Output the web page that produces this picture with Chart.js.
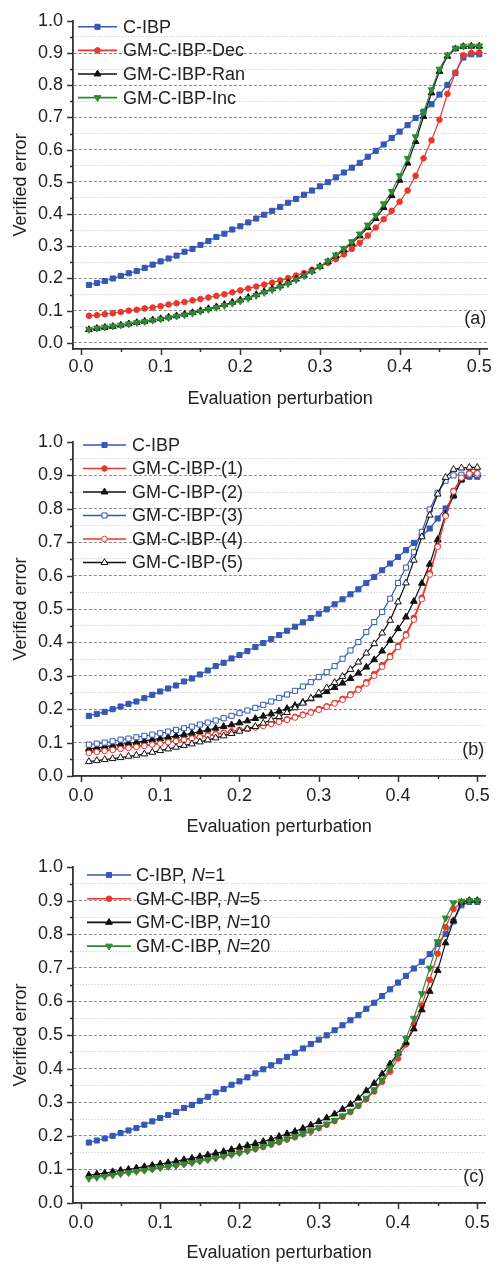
<!DOCTYPE html>
<html>
<head>
<meta charset="utf-8">
<script src="https://cdn.jsdelivr.net/npm/chart.js@4/dist/chart.umd.min.js"></script>
<style>
  html, body { margin: 0; padding: 0; background: #fff; }
  #wrap { position: relative; width: 499px; height: 1264px; }
  canvas { position: absolute; left: 0; }
</style>
</head>
<body>
<div id="wrap">
  <canvas id="chartA" width="499" height="420" style="top:0"></canvas>
  <canvas id="chartB" width="499" height="420" style="top:420px"></canvas>
  <canvas id="chartC" width="499" height="424" style="top:840px"></canvas>
</div>
<script>
// evaluation perturbation (x) and axis ticks
const xs = [0.01, 0.02, 0.03, 0.04, 0.05, 0.06, 0.07, 0.08, 0.09, 0.10,
            0.11, 0.12, 0.13, 0.14, 0.15, 0.16, 0.17, 0.18, 0.19, 0.20,
            0.21, 0.22, 0.23, 0.24, 0.25, 0.26, 0.27, 0.28, 0.29, 0.30,
            0.31, 0.32, 0.33, 0.34, 0.35, 0.36, 0.37, 0.38, 0.39, 0.40,
            0.41, 0.42, 0.43, 0.44, 0.45, 0.46, 0.47, 0.48, 0.49, 0.50];
const xTicks = [0, 0.05, 0.1, 0.15, 0.2, 0.25, 0.3, 0.35, 0.4, 0.45, 0.5];
const yTicks = [0, 0.05, 0.1, 0.15, 0.2, 0.25, 0.3, 0.35, 0.4, 0.45, 0.5,
                0.55, 0.6, 0.65, 0.7, 0.75, 0.8, 0.85, 0.9, 0.95, 1.0];

// C-IBP baseline (same in all three panels)
const cibp = [0.180, 0.186, 0.192, 0.200, 0.208, 0.216, 0.223, 0.233, 0.243, 0.253,
              0.262, 0.271, 0.283, 0.292, 0.304, 0.316, 0.329, 0.339, 0.352, 0.362,
              0.374, 0.386, 0.398, 0.410, 0.422, 0.435, 0.447, 0.460, 0.473, 0.486,
              0.499, 0.514, 0.529, 0.544, 0.559, 0.578, 0.596, 0.616, 0.636, 0.656,
              0.676, 0.698, 0.718, 0.741, 0.771, 0.801, 0.838, 0.886, 0.896, 0.896];

// panel (a)
const gmDec = [0.084, 0.086, 0.089, 0.092, 0.096, 0.100, 0.103, 0.107, 0.110, 0.114,
               0.119, 0.123, 0.127, 0.132, 0.136, 0.141, 0.146, 0.151, 0.157, 0.163,
               0.169, 0.175, 0.181, 0.187, 0.194, 0.201, 0.209, 0.217, 0.227, 0.237,
               0.248, 0.260, 0.275, 0.292, 0.311, 0.333, 0.358, 0.384, 0.410, 0.438,
               0.473, 0.519, 0.573, 0.629, 0.693, 0.773, 0.839, 0.893, 0.900, 0.902];
const gmRan = [0.041, 0.045, 0.048, 0.051, 0.055, 0.059, 0.063, 0.067, 0.071, 0.075,
               0.080, 0.084, 0.089, 0.094, 0.100, 0.106, 0.112, 0.119, 0.126, 0.133,
               0.141, 0.150, 0.159, 0.168, 0.177, 0.187, 0.198, 0.210, 0.223, 0.237,
               0.252, 0.270, 0.289, 0.309, 0.332, 0.358, 0.386, 0.420, 0.457, 0.505,
               0.558, 0.625, 0.703, 0.776, 0.843, 0.890, 0.913, 0.920, 0.921, 0.921];
const gmInc = [0.042, 0.046, 0.049, 0.052, 0.055, 0.059, 0.063, 0.066, 0.070, 0.074,
               0.078, 0.083, 0.087, 0.092, 0.098, 0.104, 0.110, 0.116, 0.123, 0.130,
               0.138, 0.147, 0.156, 0.165, 0.174, 0.184, 0.196, 0.209, 0.222, 0.237,
               0.254, 0.273, 0.293, 0.314, 0.338, 0.366, 0.396, 0.432, 0.470, 0.519,
               0.573, 0.640, 0.716, 0.786, 0.850, 0.894, 0.915, 0.921, 0.922, 0.922];

// panel (b)
const gm1 = [0.073, 0.075, 0.077, 0.080, 0.083, 0.086, 0.089, 0.092, 0.095, 0.099,
             0.102, 0.106, 0.110, 0.114, 0.118, 0.122, 0.126, 0.130, 0.134, 0.138,
             0.142, 0.146, 0.152, 0.157, 0.164, 0.170, 0.177, 0.184, 0.192, 0.201,
             0.209, 0.219, 0.231, 0.245, 0.261, 0.281, 0.305, 0.332, 0.360, 0.390,
             0.425, 0.474, 0.534, 0.608, 0.689, 0.781, 0.854, 0.894, 0.908, 0.908];
const gm2 = [0.081, 0.084, 0.088, 0.091, 0.095, 0.098, 0.101, 0.105, 0.109, 0.112,
             0.116, 0.120, 0.124, 0.128, 0.133, 0.138, 0.143, 0.148, 0.153, 0.159,
             0.165, 0.172, 0.179, 0.186, 0.194, 0.202, 0.211, 0.221, 0.231, 0.242,
             0.253, 0.265, 0.278, 0.292, 0.308, 0.326, 0.348, 0.374, 0.406, 0.441,
             0.476, 0.523, 0.577, 0.634, 0.708, 0.784, 0.840, 0.888, 0.902, 0.902];
const gm3 = [0.094, 0.097, 0.100, 0.104, 0.109, 0.112, 0.116, 0.120, 0.124, 0.128,
             0.133, 0.138, 0.143, 0.148, 0.154, 0.160, 0.166, 0.173, 0.180, 0.188,
             0.196, 0.204, 0.213, 0.223, 0.234, 0.244, 0.255, 0.268, 0.281, 0.296,
             0.311, 0.329, 0.351, 0.376, 0.401, 0.431, 0.461, 0.491, 0.531, 0.578,
             0.624, 0.670, 0.731, 0.798, 0.848, 0.884, 0.900, 0.902, 0.902, 0.902];
const gm4 = [0.069, 0.072, 0.075, 0.078, 0.081, 0.084, 0.087, 0.090, 0.094, 0.097,
             0.101, 0.104, 0.108, 0.112, 0.116, 0.120, 0.124, 0.128, 0.132, 0.137,
             0.141, 0.145, 0.150, 0.156, 0.162, 0.168, 0.175, 0.182, 0.190, 0.198,
             0.207, 0.217, 0.228, 0.242, 0.258, 0.277, 0.300, 0.327, 0.356, 0.386,
             0.421, 0.468, 0.529, 0.603, 0.686, 0.778, 0.852, 0.893, 0.905, 0.906];
const gm5 = [0.043, 0.046, 0.049, 0.052, 0.055, 0.059, 0.062, 0.066, 0.071, 0.076,
             0.081, 0.086, 0.091, 0.096, 0.102, 0.108, 0.114, 0.120, 0.127, 0.134,
             0.141, 0.148, 0.158, 0.168, 0.178, 0.190, 0.204, 0.218, 0.233, 0.249,
             0.264, 0.280, 0.298, 0.319, 0.341, 0.368, 0.396, 0.428, 0.466, 0.521,
             0.578, 0.646, 0.716, 0.781, 0.844, 0.894, 0.918, 0.922, 0.924, 0.924];

// panel (c)
const gmN5 = [0.078, 0.080, 0.083, 0.086, 0.089, 0.092, 0.095, 0.099, 0.102, 0.106,
              0.110, 0.113, 0.117, 0.121, 0.126, 0.130, 0.135, 0.140, 0.145, 0.150,
              0.156, 0.161, 0.167, 0.174, 0.181, 0.189, 0.196, 0.205, 0.213, 0.223,
              0.233, 0.244, 0.257, 0.271, 0.289, 0.309, 0.332, 0.361, 0.391, 0.430,
              0.472, 0.532, 0.588, 0.664, 0.742, 0.821, 0.875, 0.895, 0.900, 0.900];
const gmN10 = [0.083, 0.086, 0.089, 0.093, 0.097, 0.100, 0.104, 0.108, 0.112, 0.116,
               0.120, 0.124, 0.129, 0.133, 0.138, 0.143, 0.148, 0.153, 0.159, 0.166,
               0.171, 0.177, 0.183, 0.190, 0.198, 0.206, 0.213, 0.222, 0.232, 0.242,
               0.253, 0.265, 0.279, 0.294, 0.312, 0.334, 0.356, 0.384, 0.414, 0.446,
               0.478, 0.518, 0.575, 0.630, 0.692, 0.774, 0.840, 0.895, 0.900, 0.900];
const gmN20 = [0.073, 0.076, 0.079, 0.083, 0.087, 0.090, 0.094, 0.097, 0.101, 0.105,
               0.109, 0.112, 0.116, 0.120, 0.125, 0.129, 0.134, 0.139, 0.144, 0.149,
               0.155, 0.162, 0.169, 0.176, 0.183, 0.191, 0.198, 0.207, 0.215, 0.225,
               0.235, 0.246, 0.259, 0.273, 0.291, 0.312, 0.337, 0.366, 0.401, 0.445,
               0.490, 0.550, 0.623, 0.699, 0.778, 0.848, 0.893, 0.898, 0.900, 0.900];

const BLUE = '#3557b7', RED = '#e8372b', BLACK = '#111111', GREEN = '#2f8a36';
const FONT = '"Liberation Sans", Arial, Helvetica, sans-serif';

Chart.defaults.font.family = FONT;
Chart.defaults.font.size = 18;
Chart.defaults.color = '#222';

const isMajor = v => Math.abs(v * 10 - Math.round(v * 10)) < 1e-6;

function series(label, values, color, style, open, rotation) {
  const radius = { rect: 3.6, circle: 2.8, triangle: 3.9 }[style];
  return {
    label: label,
    data: xs.map((x, i) => ({ x: x, y: values[i] })),
    borderColor: color,
    backgroundColor: color,
    borderWidth: 1.2,
    tension: 0,
    pointStyle: style,
    pointRotation: rotation || 0,
    pointRadius: radius,
    pointBackgroundColor: open ? '#ffffff' : color,
    pointBorderColor: color,
    pointBorderWidth: 1
  };
}

// small ticks outside the plot: long at 0.1, short at 0.05
const axisTicks = {
  id: 'axisTicks',
  afterDraw(chart) {
    const { ctx, chartArea: a, scales: { x, y } } = chart;
    ctx.save();
    ctx.strokeStyle = '#333';
    ctx.lineWidth = 1.5;
    ctx.beginPath();
    x.ticks.forEach(t => {
      const px = Math.round(x.getPixelForValue(t.value)) + 0.5;
      ctx.moveTo(px, a.bottom);
      ctx.lineTo(px, a.bottom + (isMajor(t.value) ? 6 : 3));
    });
    y.ticks.forEach(t => {
      const py = Math.round(y.getPixelForValue(t.value)) + 0.5;
      ctx.moveTo(a.left, py);
      ctx.lineTo(a.left - (isMajor(t.value) ? 6 : 3), py);
    });
    ctx.stroke();
    ctx.restore();
  }
};

// legend drawn inside the plot, top-left, over the grid
const insideLegend = {
  id: 'insideLegend',
  afterDraw(chart, args, opts) {
    const { ctx, chartArea: a } = chart;
    ctx.save();
    chart.data.datasets.forEach((ds, i) => {
      const y = a.top + opts.top + i * opts.rowGap;
      const x0 = a.left + opts.left;
      const x1 = x0 + opts.lineLen;
      ctx.strokeStyle = ds.borderColor;
      ctx.lineWidth = 1.6;
      ctx.beginPath();
      ctx.moveTo(x0, y);
      ctx.lineTo(x1, y);
      ctx.stroke();

      ctx.fillStyle = ds.pointBackgroundColor;
      ctx.strokeStyle = ds.pointBorderColor;
      ctx.lineWidth = 1;
      Chart.helpers.drawPoint(ctx, {
        pointStyle: ds.pointStyle,
        rotation: ds.pointRotation,
        radius: ds.pointRadius,
        borderWidth: 1
      }, (x0 + x1) / 2, y);

      ctx.fillStyle = '#222';
      ctx.textBaseline = 'middle';
      ctx.textAlign = 'left';
      let tx = x1 + opts.gap;
      const m = ds.label.match(/^(.*, )N(=.*)$/);
      const parts = m ? [[m[1], ''], ['N', 'italic '], [m[2], '']] : [[ds.label, '']];
      parts.forEach(p => {
        ctx.font = p[1] + '18px ' + FONT;
        ctx.fillText(p[0], tx, y + 1);
        tx += ctx.measureText(p[0]).width;
      });
    });
    ctx.restore();
  }
};

const panelTag = {
  id: 'panelTag',
  afterDraw(chart, args, opts) {
    const { ctx, chartArea: a } = chart;
    ctx.save();
    ctx.font = '18px ' + FONT;
    ctx.fillStyle = '#222';
    ctx.textAlign = 'right';
    ctx.textBaseline = 'middle';
    ctx.fillText(opts.text, a.right - 1, a.bottom - opts.up);
    ctx.restore();
  }
};

function makePanel(id, p) {
  const n = p.datasets.length;
  p.datasets.forEach((ds, i) => { ds.order = n - i; });
  new Chart(document.getElementById(id), {
    type: 'line',
    data: { datasets: p.datasets },
    plugins: [axisTicks, insideLegend, panelTag],
    options: {
      responsive: false,
      animation: false,
      events: [],
      layout: { padding: { top: p.top, right: 10, bottom: 0, left: 0 } },
      plugins: {
        legend: { display: false },
        tooltip: { enabled: false },
        insideLegend: p.legend,
        panelTag: { text: p.tag, up: p.tagUp }
      },
      scales: {
        x: {
          type: 'linear',
          min: -0.01,
          max: 0.51,
          afterFit: s => { s.height = p.xAxisH; },
          afterBuildTicks: s => { s.ticks = xTicks.map(v => ({ value: v })); },
          ticks: {
            autoSkip: false,
            maxRotation: 0,
            padding: p.xTickPad,
            callback: v => isMajor(v) ? v.toFixed(1) : ''
          },
          grid: { display: false, drawTicks: false },
          border: { color: '#333', width: 1.8 },
          title: {
            display: true,
            text: 'Evaluation perturbation',
            padding: { top: 0, bottom: p.xTitlePad }
          }
        },
        y: {
          min: p.yMin,
          max: 1.0,
          afterFit: s => { s.width = 73; },
          afterBuildTicks: s => { s.ticks = yTicks.map(v => ({ value: v })); },
          ticks: {
            autoSkip: false,
            padding: 10,
            callback: v => isMajor(v) ? v.toFixed(1) : ''
          },
          grid: {
            drawTicks: false,
            lineWidth: 1,
            color: c => {
              if (!c.tick || c.tick.value > 0.99) return 'rgba(0,0,0,0)';
              return isMajor(c.tick.value) ? '#8a8a8a' : '#c4c4c4';
            }
          },
          border: {
            color: '#333',
            width: 1.8,
            dash: c => c.tick ? (isMajor(c.tick.value) ? [3, 2] : [1, 2]) : []
          },
          title: {
            display: true,
            text: 'Verified error',
            padding: { top: 10, bottom: 0 }
          }
        }
      }
    }
  });
}

makePanel('chartA', {
  top: 14, xAxisH: 71, yMin: -0.019, xTickPad: 7, xTitlePad: 10,
  legend: { left: 5, top: 6, rowGap: 23.6, lineLen: 39, gap: 6 },
  tag: '(a)', tagUp: 30,
  datasets: [
    series('C-IBP', cibp, BLUE, 'rect', false),
    series('GM-C-IBP-Dec', gmDec, RED, 'circle', false),
    series('GM-C-IBP-Ran', gmRan, BLACK, 'triangle', false),
    series('GM-C-IBP-Inc', gmInc, GREEN, 'triangle', false, 180)
  ]
});

makePanel('chartB', {
  top: 22, xAxisH: 64, yMin: 0, xTickPad: 9, xTitlePad: 2.5,
  legend: { left: 10, top: 3, rowGap: 23.5, lineLen: 43, gap: 6 },
  tag: '(b)', tagUp: 26,
  datasets: [
    series('C-IBP', cibp, BLUE, 'rect', false),
    series('GM-C-IBP-(1)', gm1, RED, 'circle', false),
    series('GM-C-IBP-(2)', gm2, BLACK, 'triangle', false),
    series('GM-C-IBP-(3)', gm3, BLUE, 'rect', true),
    series('GM-C-IBP-(4)', gm4, RED, 'circle', true),
    series('GM-C-IBP-(5)', gm5, BLACK, 'triangle', true)
  ]
});

makePanel('chartC', {
  top: 27, xAxisH: 61, yMin: 0, xTickPad: 9, xTitlePad: 0,
  legend: { left: 14, top: 8, rowGap: 23.7, lineLen: 44, gap: 5 },
  tag: '(c)', tagUp: 26,
  datasets: [
    series('C-IBP, N=1', cibp, BLUE, 'rect', false),
    series('GM-C-IBP, N=5', gmN5, RED, 'circle', false),
    series('GM-C-IBP, N=10', gmN10, BLACK, 'triangle', false),
    series('GM-C-IBP, N=20', gmN20, GREEN, 'triangle', false, 180)
  ]
});
</script>
</body>
</html>
